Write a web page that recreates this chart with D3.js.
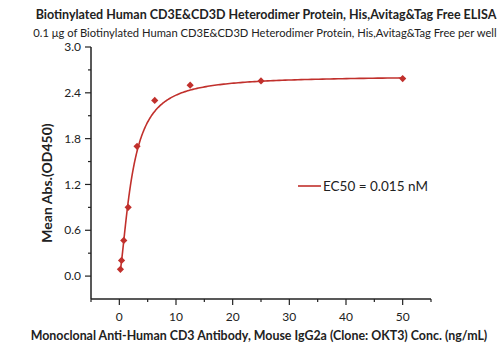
<!DOCTYPE html>
<html>
<head>
<meta charset="utf-8">
<script src="https://cdn.jsdelivr.net/npm/d3@7"></script>
<style>
  body { margin: 0; background: #fff; }
  svg text { font-family: Lato, "Open Sans", sans-serif; fill: #222; }
</style>
</head>
<body>
<svg id="chart" width="500" height="351"></svg>
<script>
// Data
const concentrations = [0.1953, 0.3906, 0.78125, 1.5625, 3.125, 6.25, 12.5, 25, 50];
const absorbances = [0.088, 0.205, 0.467, 0.90, 1.70, 2.30, 2.50, 2.556, 2.587];
const xTicks = [0, 10, 20, 30, 40, 50];
const yTicks = [0.0, 0.6, 1.2, 1.8, 2.4, 3.0];

// 4PL fit parameters (ng/mL)
const fitBottom = 0.02, fitTop = 2.62, fitEC50 = 2.25, fitHill = 1.5;

const title = "Biotinylated Human CD3E&CD3D Heterodimer Protein, His,Avitag&Tag Free ELISA";
const subtitle = "0.1 \u03bcg of Biotinylated Human CD3E&CD3D Heterodimer Protein, His,Avitag&Tag Free per well";
const xLabel = "Monoclonal Anti-Human CD3 Antibody, Mouse IgG2a (Clone: OKT3) Conc. (ng/mL)";
const yLabel = "Mean Abs.(OD450)";
const legendText = "EC50 = 0.015 nM";
const red = "#c1302c";

const svg = d3.select("#chart");

const x = d3.scaleLinear().domain([-5, 55]).range([91, 431]);
const y = d3.scaleLinear().domain([-0.3, 3.0]).range([299, 47]);

// titles
svg.append("text")
    .attr("x", 266).attr("y", 19)
    .attr("text-anchor", "middle")
    .style("font-size", "12.5px").style("font-weight", "bold")
    .text(title);

svg.append("text")
    .attr("x", 265).attr("y", 37)
    .attr("text-anchor", "middle")
    .style("font-size", "11.2px")
    .text(subtitle);

// x axis
const xAxis = svg.append("g").attr("transform", `translate(0, 299)`);
xAxis.append("line").attr("x1", x(-5)).attr("x2", x(55)).attr("stroke", "#222").attr("stroke-width", 1.5);
d3.range(-5, 56, 5).forEach(v => {
    const major = v % 10 === 0;
    xAxis.append("line")
        .attr("x1", x(v)).attr("x2", x(v))
        .attr("y1", 0).attr("y2", major ? 6 : 3)
        .attr("stroke", "#222").attr("stroke-width", 1.2);
});
xAxis.selectAll("text.tick").data(xTicks).enter().append("text")
    .attr("x", d => x(d)).attr("y", 22)
    .attr("text-anchor", "middle")
    .style("font-size", "12px")
    .text(d => d);

// y axis
const yAxis = svg.append("g").attr("transform", `translate(91, 0)`);
yAxis.append("line").attr("y1", y(-0.3)).attr("y2", y(3.0)).attr("stroke", "#222").attr("stroke-width", 1.5);
d3.range(0, 11).map(i => i * 0.3).forEach((v, i) => {
    const major = i % 2 === 0;
    yAxis.append("line")
        .attr("y1", y(v)).attr("y2", y(v))
        .attr("x1", 0).attr("x2", major ? -6 : -3)
        .attr("stroke", "#222").attr("stroke-width", 1.2);
});
yAxis.selectAll("text.tick").data(yTicks).enter().append("text")
    .attr("x", -10).attr("y", d => y(d)).attr("dy", "0.35em")
    .attr("text-anchor", "end")
    .style("font-size", "12px")
    .text(d => d.toFixed(1));

// axis labels
svg.append("text")
    .attr("x", 259).attr("y", 340)
    .attr("text-anchor", "middle")
    .style("font-size", "12.4px").style("font-weight", "bold")
    .text(xLabel);

svg.append("text")
    .attr("transform", `translate(52, 183) rotate(-90)`)
    .attr("text-anchor", "middle")
    .style("font-size", "14px").style("font-weight", "bold")
    .text(yLabel);

// fitted curve
const fit = c => fitBottom + (fitTop - fitBottom) / (1 + Math.pow(fitEC50 / c, fitHill));
const curveX = d3.range(0, 301).map(i => Math.exp(Math.log(0.1953) + i / 300 * (Math.log(50) - Math.log(0.1953))));
svg.append("path")
    .datum(curveX)
    .attr("fill", "none")
    .attr("stroke", red)
    .attr("stroke-width", 1.6)
    .attr("d", d3.line().x(d => x(d)).y(d => y(fit(d))));

// points (rotated squares)
svg.selectAll("path.pt")
    .data(concentrations.map((c, i) => [c, absorbances[i]]))
    .enter().append("path")
    .attr("class", "pt")
    .attr("d", d3.symbol(d3.symbolSquare, 26))
    .attr("transform", d => `translate(${x(d[0])}, ${y(d[1])}) rotate(45)`)
    .attr("fill", red);

// legend
svg.append("line")
    .attr("x1", 298).attr("x2", 321).attr("y1", 186).attr("y2", 186)
    .attr("stroke", red).attr("stroke-width", 1.6);
svg.append("text")
    .attr("x", 323).attr("y", 186).attr("dy", "0.35em")
    .style("font-size", "13.5px")
    .text(legendText);
</script>
</body>
</html>
